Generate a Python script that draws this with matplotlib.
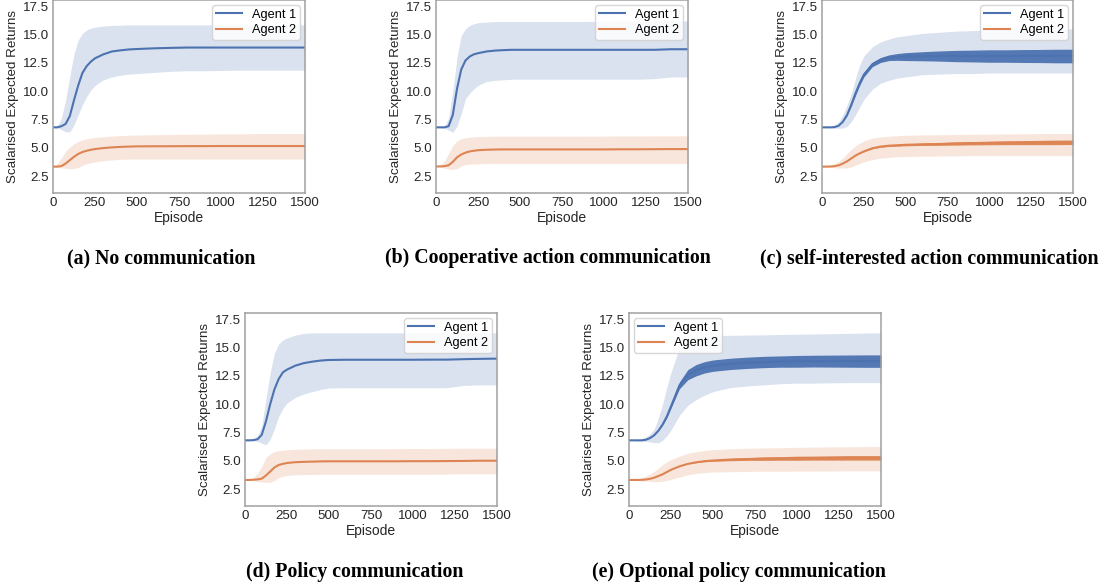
import matplotlib
matplotlib.use("Agg")
import matplotlib.pyplot as plt
import numpy as np

# ---------------- data ----------------
episodes = [0, 25, 50, 75, 100, 125, 150, 175, 200, 225, 250, 300, 350, 400, 450,
            500, 600, 700, 800, 900, 1000, 1100, 1200, 1300, 1400, 1500]

# (a) No communication
a1_mean = [6.8, 6.8, 6.9, 7.1, 7.8, 9.2, 10.5, 11.6, 12.2, 12.6, 12.9, 13.25, 13.5, 13.6, 13.68, 13.72, 13.78, 13.82, 13.85, 13.85, 13.85, 13.85, 13.85, 13.85, 13.85, 13.85]
a1_lo = [6.8, 6.75, 6.6, 6.4, 6.4, 7.0, 7.9, 8.8, 9.5, 10.1, 10.5, 11.0, 11.25, 11.4, 11.5, 11.55, 11.65, 11.75, 11.8, 11.8, 11.82, 11.85, 11.85, 11.85, 11.85, 11.85]
a1_hi = [6.8, 6.9, 7.6, 9.2, 11.3, 13.3, 14.5, 15.1, 15.4, 15.55, 15.65, 15.75, 15.8, 15.82, 15.85, 15.85, 15.85, 15.85, 15.85, 15.85, 15.85, 15.85, 15.85, 15.85, 15.85, 15.85]
a2_mean = [3.33, 3.33, 3.38, 3.6, 3.9, 4.2, 4.45, 4.62, 4.73, 4.82, 4.88, 4.97, 5.03, 5.07, 5.1, 5.12, 5.13, 5.13, 5.14, 5.14, 5.15, 5.15, 5.15, 5.15, 5.15, 5.15]
a2_hi = [3.33, 3.6, 4.1, 4.7, 5.05, 5.35, 5.55, 5.7, 5.78, 5.85, 5.9, 5.97, 6.03, 6.07, 6.1, 6.12, 6.15, 6.17, 6.2, 6.2, 6.22, 6.22, 6.25, 6.25, 6.25, 6.25]
a2_lo = [3.33, 3.28, 3.22, 3.18, 3.15, 3.17, 3.25, 3.45, 3.58, 3.68, 3.75, 3.85, 3.92, 3.97, 4.0, 4.0, 4.0, 4.0, 4.0, 4.0, 4.0, 4.0, 4.0, 4.0, 4.0, 4.0]

# (b) Cooperative action communication
b1_mean = [6.8, 6.8, 6.8, 6.9, 7.9, 10.2, 11.9, 12.7, 13.05, 13.25, 13.35, 13.5, 13.58, 13.62, 13.65, 13.65, 13.65, 13.65, 13.65, 13.65, 13.65, 13.65, 13.65, 13.65, 13.7, 13.7]
b1_hi = [6.8, 6.8, 6.9, 7.6, 10.0, 13.0, 14.9, 15.5, 15.8, 15.95, 16.05, 16.1, 16.15, 16.15, 16.15, 16.15, 16.15, 16.15, 16.15, 16.15, 16.18, 16.2, 16.2, 16.2, 16.2, 16.2]
b1_lo = [6.8, 6.8, 6.72, 6.55, 6.35, 6.9, 8.0, 9.3, 9.8, 10.2, 10.5, 10.85, 10.95, 11.0, 11.05, 11.05, 11.05, 11.05, 11.05, 11.05, 11.05, 11.05, 11.05, 11.1, 11.25, 11.25]
b2_mean = [3.35, 3.35, 3.37, 3.45, 3.75, 4.15, 4.4, 4.56, 4.67, 4.73, 4.78, 4.82, 4.84, 4.85, 4.85, 4.85, 4.85, 4.85, 4.85, 4.85, 4.85, 4.86, 4.86, 4.87, 4.88, 4.88]
b2_hi = [3.35, 3.45, 3.8, 4.5, 5.2, 5.6, 5.8, 5.88, 5.93, 5.96, 5.98, 6.0, 6.02, 6.02, 6.02, 6.02, 6.02, 6.02, 6.02, 6.03, 6.03, 6.04, 6.04, 6.05, 6.05, 6.05]
b2_lo = [3.35, 3.3, 3.2, 3.12, 3.07, 3.15, 3.4, 3.5, 3.55, 3.57, 3.58, 3.6, 3.6, 3.6, 3.6, 3.6, 3.6, 3.6, 3.6, 3.6, 3.6, 3.6, 3.6, 3.6, 3.6, 3.6]

# (c) self-interested action communication (line oscillates episode to episode)
c1_mean = [6.8, 6.8, 6.8, 6.82, 6.95, 7.3, 7.9, 8.8, 9.8, 10.7, 11.45, 12.35, 12.75, 12.95, 13.02, 13.05, 13.08, 13.1, 13.1, 13.1, 13.1, 13.1, 13.1, 13.1, 13.1, 13.1]
c1_osc = [0, 0, 0, 0, 0, 0, 0.05, 0.12, 0.18, 0.2, 0.2, 0.2, 0.22, 0.25, 0.3, 0.35, 0.4, 0.45, 0.5, 0.52, 0.55, 0.55, 0.57, 0.58, 0.6, 0.6]
c1_hi = [6.8, 6.82, 6.88, 7.0, 7.3, 7.9, 8.8, 9.8, 11.1, 12.3, 13.1, 13.9, 14.35, 14.6, 14.8, 14.9, 15.1, 15.2, 15.3, 15.35, 15.4, 15.45, 15.45, 15.5, 15.5, 15.5]
c1_lo = [6.8, 6.78, 6.75, 6.72, 6.72, 6.75, 6.9, 7.3, 7.9, 8.6, 9.25, 10.15, 10.7, 10.95, 11.15, 11.25, 11.45, 11.5, 11.55, 11.55, 11.6, 11.6, 11.6, 11.6, 11.6, 11.6]
c2_mean = [3.33, 3.33, 3.34, 3.37, 3.45, 3.6, 3.8, 4.05, 4.3, 4.5, 4.67, 4.95, 5.1, 5.18, 5.22, 5.26, 5.3, 5.33, 5.37, 5.4, 5.42, 5.44, 5.45, 5.46, 5.47, 5.48]
c2_osc = [0, 0, 0, 0, 0, 0, 0, 0, 0, 0, 0.03, 0.05, 0.06, 0.07, 0.08, 0.09, 0.1, 0.12, 0.14, 0.15, 0.16, 0.17, 0.18, 0.19, 0.2, 0.2]
c2_hi = [3.33, 3.36, 3.45, 3.6, 3.8, 4.1, 4.5, 4.85, 5.15, 5.4, 5.6, 5.85, 5.95, 6.02, 6.06, 6.1, 6.13, 6.15, 6.17, 6.2, 6.2, 6.22, 6.23, 6.25, 6.25, 6.25]
c2_lo = [3.33, 3.3, 3.27, 3.23, 3.2, 3.2, 3.22, 3.3, 3.45, 3.6, 3.75, 3.95, 4.08, 4.15, 4.2, 4.22, 4.25, 4.27, 4.28, 4.3, 4.3, 4.3, 4.3, 4.3, 4.3, 4.3]

# (d) Policy communication
d1_mean = [6.8, 6.8, 6.82, 6.9, 7.3, 8.5, 10.0, 11.3, 12.2, 12.8, 13.05, 13.4, 13.62, 13.75, 13.85, 13.9, 13.92, 13.92, 13.92, 13.92, 13.92, 13.93, 13.93, 13.97, 14.0, 14.02]
d1_hi = [6.8, 6.82, 6.9, 7.2, 8.1, 10.5, 12.8, 14.5, 15.3, 15.65, 15.85, 16.1, 16.25, 16.3, 16.3, 16.3, 16.3, 16.3, 16.3, 16.3, 16.3, 16.3, 16.3, 16.3, 16.3, 16.3]
d1_lo = [6.8, 6.8, 6.75, 6.7, 6.55, 6.4, 6.9, 7.8, 8.9, 9.6, 10.1, 10.6, 10.9, 11.1, 11.3, 11.42, 11.45, 11.45, 11.45, 11.45, 11.45, 11.45, 11.45, 11.65, 11.7, 11.7]
d2_mean = [3.3, 3.3, 3.32, 3.35, 3.42, 3.7, 4.05, 4.4, 4.62, 4.72, 4.8, 4.87, 4.9, 4.92, 4.94, 4.95, 4.95, 4.95, 4.95, 4.95, 4.96, 4.96, 4.97, 4.98, 5.0, 5.0]
d2_hi = [3.3, 3.35, 3.5, 3.9, 4.5, 5.3, 5.6, 5.8, 5.88, 5.93, 5.96, 6.0, 6.03, 6.05, 6.05, 6.05, 6.05, 6.05, 6.06, 6.07, 6.08, 6.08, 6.09, 6.1, 6.1, 6.1]
d2_lo = [3.3, 3.28, 3.22, 3.17, 3.12, 3.08, 3.1, 3.25, 3.5, 3.62, 3.7, 3.75, 3.78, 3.78, 3.8, 3.8, 3.8, 3.8, 3.8, 3.8, 3.8, 3.8, 3.82, 3.85, 3.85, 3.85]

# (e) Optional policy communication (line oscillates episode to episode)
e1_mean = [6.8, 6.8, 6.8, 6.8, 6.85, 7.0, 7.25, 7.65, 8.2, 8.9, 9.8, 11.65, 12.6, 13.0, 13.25, 13.4, 13.55, 13.65, 13.72, 13.76, 13.78, 13.8, 13.8, 13.8, 13.8, 13.8]
e1_osc = [0, 0, 0, 0, 0, 0, 0, 0, 0.05, 0.1, 0.15, 0.3, 0.45, 0.5, 0.5, 0.5, 0.5, 0.5, 0.5, 0.5, 0.52, 0.52, 0.53, 0.54, 0.55, 0.55]
e1_hi = [6.8, 6.82, 6.85, 6.95, 7.1, 7.35, 7.8, 8.8, 10.0, 11.5, 12.8, 15.0, 15.85, 16.0, 16.02, 16.05, 16.08, 16.1, 16.12, 16.15, 16.18, 16.2, 16.22, 16.25, 16.28, 16.3]
e1_lo = [6.8, 6.78, 6.75, 6.72, 6.7, 6.65, 6.6, 6.58, 6.8, 7.2, 7.7, 9.0, 9.9, 10.4, 10.8, 11.1, 11.45, 11.6, 11.7, 11.8, 11.85, 11.85, 11.88, 11.9, 11.9, 11.9]
e2_mean = [3.3, 3.3, 3.3, 3.31, 3.34, 3.4, 3.5, 3.65, 3.8, 4.0, 4.2, 4.5, 4.72, 4.86, 4.96, 5.02, 5.1, 5.15, 5.18, 5.2, 5.22, 5.23, 5.24, 5.25, 5.25, 5.25]
e2_osc = [0, 0, 0, 0, 0, 0, 0, 0, 0, 0, 0, 0, 0, 0.03, 0.05, 0.07, 0.1, 0.12, 0.15, 0.16, 0.18, 0.18, 0.19, 0.2, 0.2, 0.2]
e2_hi = [3.3, 3.32, 3.38, 3.5, 3.65, 3.82, 4.05, 4.35, 4.65, 4.9, 5.1, 5.4, 5.65, 5.8, 5.9, 5.97, 6.05, 6.1, 6.13, 6.15, 6.18, 6.2, 6.22, 6.23, 6.25, 6.25]
e2_lo = [3.3, 3.28, 3.25, 3.22, 3.2, 3.18, 3.15, 3.15, 3.18, 3.25, 3.35, 3.55, 3.75, 3.88, 3.95, 4.0, 4.03, 4.05, 4.07, 4.07, 4.08, 4.08, 4.09, 4.1, 4.1, 4.1]

series_labels = ["Agent 1", "Agent 2"]
captions = ["(a) No communication", "(b) Cooperative action communication",
            "(c) self-interested action communication", "(d) Policy communication",
            "(e) Optional policy communication"]
x_label = "Episode"
y_label = "Scalarised Expected Returns"
x_ticks = [0, 250, 500, 750, 1000, 1250, 1500]
y_ticks = [2.5, 5.0, 7.5, 10.0, 12.5, 15.0, 17.5]

# ---------------- style ----------------
BLUE = "#4C72B0"
ORANGE = "#DD8452"
plt.rcParams["font.family"] = ["Liberation Sans", "DejaVu Sans"]
FS = 9.6

W, H = 1106, 588
fig = plt.figure(figsize=(W / 100, H / 100), dpi=100)

def px_axes(x0, x1, ytop, ybot):
    return fig.add_axes([x0 / W, 1 - ybot / H, (x1 - x0) / W, (ybot - ytop) / H])

panels = [
    dict(box=(53, 305, 0, 193), a1=(a1_mean, a1_lo, a1_hi, None), a2=(a2_mean, a2_lo, a2_hi, None),
         leg="upper right", cap=(161, 258)),
    dict(box=(436, 688, 0, 193), a1=(b1_mean, b1_lo, b1_hi, None), a2=(b2_mean, b2_lo, b2_hi, None),
         leg="upper right", cap=(548, 258)),
    dict(box=(822, 1073, 0, 193), a1=(c1_mean, c1_lo, c1_hi, c1_osc), a2=(c2_mean, c2_lo, c2_hi, c2_osc),
         leg="upper right", cap=(929, 258)),
    dict(box=(245, 497, 313, 506), a1=(d1_mean, d1_lo, d1_hi, None), a2=(d2_mean, d2_lo, d2_hi, None),
         leg="upper right", cap=(355, 572)),
    dict(box=(629, 881, 313, 506), a1=(e1_mean, e1_lo, e1_hi, e1_osc), a2=(e2_mean, e2_lo, e2_hi, e2_osc),
         leg="upper left", cap=(739, 572)),
]

x = np.array(episodes, dtype=float)
for p, cap in zip(panels, captions):
    ax = px_axes(*p["box"])
    handles = []
    for (mean, lo, hi, osc), col, lab in zip((p["a1"], p["a2"]), (BLUE, ORANGE), series_labels):
        m = np.array(mean)
        ax.fill_between(x, lo, hi, color=col, alpha=0.2, linewidth=0)
        if osc is not None:
            o = np.array(osc)
            ax.fill_between(x, m - o, m + o, color=col, linewidth=0, alpha=0.95)
        h, = ax.plot(x, m, color=col, lw=1.5, label=lab)
        handles.append(h)
    ax.set_xlim(0, 1500)
    ax.set_ylim(1.0, 18.05)
    ax.set_xticks(x_ticks)
    ax.set_yticks(y_ticks)
    ax.set_yticklabels([f"{v:.1f}" for v in y_ticks])
    ax.tick_params(length=0, labelsize=FS, colors="#262626", pad=3)
    for s in ax.spines.values():
        s.set_color("#a0a0a0")
        s.set_linewidth(1.1)
    ax.set_xlabel(x_label, fontsize=FS + 0.4, color="#262626", labelpad=1)
    ax.set_ylabel(y_label, fontsize=FS, color="#262626", labelpad=3)
    ax.legend(handles=handles, loc=p["leg"], fontsize=9.2, frameon=True,
              fancybox=True, edgecolor="#d0d0d0", framealpha=0.85,
              handlelength=2.0, handletextpad=0.8, borderaxespad=0.4,
              borderpad=0.3, labelspacing=0.25)
    cx, cy = p["cap"]
    fig.text(cx / W, 1 - cy / H, cap, ha="center", va="center",
             fontsize=14.3, fontweight="bold", family=["Liberation Serif", "DejaVu Serif"])

fig.savefig("out.png", dpi=100)
